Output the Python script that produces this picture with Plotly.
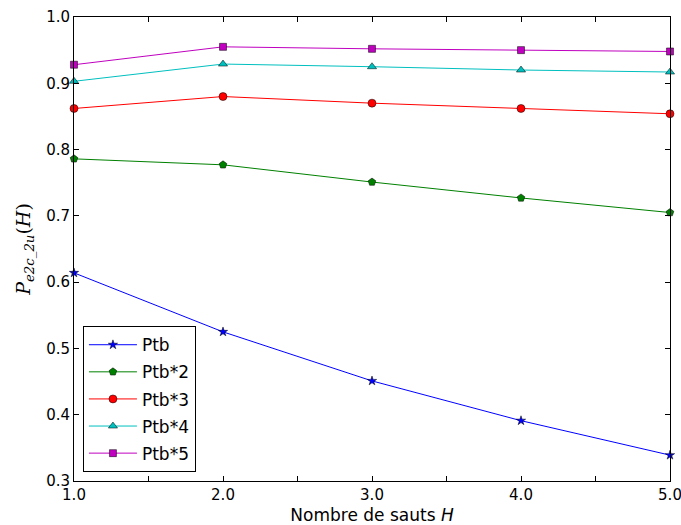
import plotly.graph_objects as go

H = [1.0, 2.0, 3.0, 4.0, 5.0]
names = ["Ptb", "Ptb*2", "Ptb*3", "Ptb*4", "Ptb*5"]
ptb1 = [0.614, 0.525, 0.451, 0.391, 0.339]
ptb2 = [0.786, 0.777, 0.751, 0.727, 0.705]
ptb3 = [0.862, 0.880, 0.870, 0.862, 0.854]
ptb4 = [0.903, 0.929, 0.925, 0.920, 0.917]
ptb5 = [0.928, 0.955, 0.952, 0.950, 0.948]
series = [ptb1, ptb2, ptb3, ptb4, ptb5]

x_tickvals = [1.0, 1.5, 2.0, 2.5, 3.0, 3.5, 4.0, 4.5, 5.0]
x_ticktext = ["1.0", "", "2.0", "", "3.0", "", "4.0", "", "5.0"]
y_tickvals = [0.3, 0.4, 0.5, 0.6, 0.7, 0.8, 0.9, 1.0]
y_ticktext = ["0.3", "0.4", "0.5", "0.6", "0.7", "0.8", "0.9", "1.0"]

colors = ["#0000ff", "#008000", "#ff0000", "#00bfbf", "#bf00bf"]
symbols = ["star", "pentagon", "circle", "triangle-up", "square"]
sizes = [7, 8, 8, 8, 7]

fig = go.Figure()
for nm, ys, c, s, sz in zip(names, series, colors, symbols, sizes):
    fig.add_trace(go.Scatter(
        x=H, y=ys, name=nm, mode="lines+markers", legendgroup=nm,
        line=dict(color=c, width=1),
        marker=dict(symbol=s, size=sz, color=c, line=dict(color="black", width=0.5)),
        cliponaxis=False,
    ))

axis_common = dict(
    showgrid=False, zeroline=False, showline=True, linecolor="black", linewidth=1,
    mirror="ticks", ticks="inside", ticklen=5, tickcolor="black", automargin=False,
    ticklabeloverflow="allow",
    tickfont=dict(family="DejaVu Sans", size=15, color="black"),
)

fig.update_layout(
    width=681, height=525,
    margin=dict(l=74, r=11, t=17, b=44),
    paper_bgcolor="white", plot_bgcolor="white",
    xaxis=dict(range=[1.0, 5.0], tickvals=x_tickvals, ticktext=x_ticktext,
               title=dict(text="Nombre de sauts <i>H</i>", standoff=6,
                          font=dict(family="DejaVu Sans", size=17, color="black")),
               **axis_common),
    yaxis=dict(range=[0.3, 1.0], tickvals=y_tickvals, ticktext=y_ticktext,
               title=dict(text="<i>P</i><sub><i>e2c_2u</i></sub>(<i>H</i>)", standoff=10,
                          font=dict(family="DejaVu Serif", size=19, color="black")),
               **axis_common),
    legend=dict(x=0.015, y=0.019, xanchor="left", yanchor="bottom",
                bordercolor="black", borderwidth=1, bgcolor="white",
                tracegroupgap=2, itemwidth=48,
                font=dict(family="DejaVu Sans", size=17, color="black")),
    showlegend=True,
)

fig.write_html("out.html", config={"displayModeBar": False},
               post_script="document.body.style.margin='0';")
